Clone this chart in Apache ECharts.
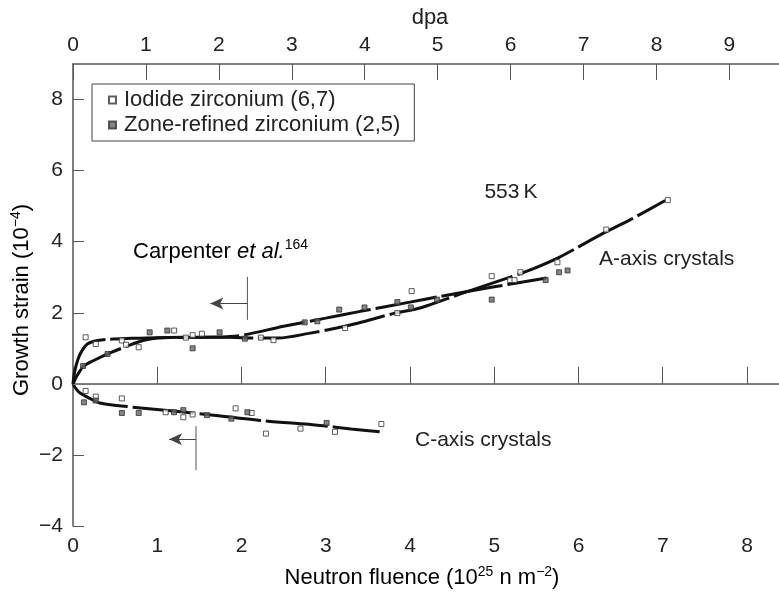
<!DOCTYPE html>
<html><head><meta charset="utf-8">
<script src="https://cdn.jsdelivr.net/npm/echarts@6/dist/echarts.min.js"></script>
<style>html,body{margin:0;padding:0;background:#fff}#c{width:779px;height:594px}</style>
</head><body><div id="c"></div>
<script>
// ---- data ----
const xTicksFluence = [0,1,2,3,4,5,6,7,8];
const xMaxFluence = 8.38;
const dpaMax = 9.68;
const yMin = -4, yMax = 9;

const iodideA = [[0.15,1.31],[0.27,1.12],[0.58,1.22],[0.63,1.10],[0.78,1.03],[1.20,1.50],[1.34,1.30],[1.42,1.37],[1.53,1.41],[2.23,1.30],[2.38,1.23],[3.23,1.57],[4.02,2.61],[3.85,1.99],[4.97,3.03],[5.19,2.92],[5.24,2.92],[5.31,3.14],[5.75,3.42],[6.33,4.34],[7.06,5.17]];
const zoneA = [[0.12,0.50],[0.41,0.84],[0.91,1.45],[1.12,1.50],[1.42,1.00],[1.74,1.45],[2.04,1.27],[2.75,1.73],[2.90,1.76],[3.16,2.09],[3.46,2.15],[3.85,2.30],[4.01,2.15],[4.32,2.37],[4.97,2.37],[5.61,2.92],[5.77,3.14],[5.87,3.19]];
const iodideC = [[0.15,-0.20],[0.27,-0.36],[0.58,-0.41],[1.10,-0.80],[1.31,-0.94],[1.42,-0.86],[1.93,-0.69],[2.12,-0.82],[2.29,-1.40],[2.70,-1.26],[3.11,-1.35],[3.66,-1.13]];
const zoneC = [[0.13,-0.52],[0.27,-0.47],[0.58,-0.82],[0.78,-0.82],[1.20,-0.80],[1.31,-0.74],[1.59,-0.88],[1.88,-0.98],[2.07,-0.80],[3.01,-1.10]];

const curveA1 = [[0,0],[0.02,0.35],[0.06,0.7],[0.11,0.95],[0.17,1.12],[0.25,1.2],[0.4,1.25],[0.7,1.28],[1.0,1.3],[1.5,1.31],[1.92,1.34],[2.5,1.62],[3.0,1.85],[3.41,2.04],[4.0,2.3],[4.36,2.46],[5.0,2.73],[5.62,2.98]];
const curveA2 = [[0,0],[0.04,0.2],[0.08,0.35],[0.12,0.49],[0.24,0.65],[0.44,0.87],[0.64,1.06],[0.83,1.22],[1.0,1.29],[1.3,1.31],[1.8,1.31],[2.2,1.29],[2.44,1.29],[2.8,1.42],[3.13,1.57],[3.4,1.72],[3.79,1.97],[4.14,2.15],[4.6,2.53],[5.11,2.94],[5.39,3.17],[5.77,3.56],[6.28,4.22],[6.6,4.6],[7.03,5.16]];
const curveC = [[0,0],[0.03,-0.12],[0.08,-0.25],[0.2,-0.41],[0.32,-0.54],[0.64,-0.64],[1.03,-0.73],[1.59,-0.86],[2.22,-1.03],[2.93,-1.17],[3.3,-1.27],[3.64,-1.35]];

const arrowAVert = [[2.07,3.01],[2.07,1.80]];
const arrowAHoriz = [[2.07,2.26],[1.63,2.26]];
const arrowCVert = [[1.46,-1.19],[1.46,-2.43]];
const arrowCHoriz = [[1.46,-1.56],[1.14,-1.56]];

const seriesNames = ['Iodide zirconium (6,7)','Zone-refined zirconium (2,5)'];

// ---- chart ----
const FF = "'Liberation Sans', Arial, Helvetica, sans-serif";
const axisColor = '#555';
const txt = '#222';
const chart = echarts.init(document.getElementById('c'), null, {renderer:'canvas'});

function curve(data){
  return {type:'line', data:data, xAxisIndex:0, yAxisIndex:0, symbol:'none', smooth:0.3,
    lineStyle:{color:'#111', width:3, type:[62,5]}, silent:true, z:3};
}
function vline(data){
  return {type:'line', data:data, xAxisIndex:0, yAxisIndex:0, symbol:'none',
    lineStyle:{color:'#555', width:1}, silent:true, z:2};
}
function harrow(d){
  return {type:'line', data:[], xAxisIndex:0, yAxisIndex:0, silent:true,
    markLine:{silent:true, symbol:['none','arrow'], symbolSize:[9,13], label:{show:false},
      lineStyle:{color:'#444', width:1, type:'solid'},
      data:[[{coord:d[0]},{coord:d[1]}]]}};
}

const option = {
  animation:false,
  backgroundColor:'#fff',
  grid:{left:73, top:64, right:0, bottom:68, containLabel:false},
  legend:{
    orient:'vertical', left:92, top:84,
    padding:[5,14,5,16], itemGap:3, itemWidth:7, itemHeight:7,
    borderColor:'#444', borderWidth:1, backgroundColor:'#fff',
    textStyle:{fontSize:22, color:txt, fontFamily:FF, padding:[0,0,0,3]},
    data:seriesNames
  },
  xAxis:[
    {type:'value', position:'bottom', min:0, max:xMaxFluence, interval:1,
     axisLine:{lineStyle:{color:axisColor, width:1.5}},
     axisTick:{inside:true, length:17, lineStyle:{color:axisColor, width:1}},
     axisLabel:{fontSize:21, color:txt, fontFamily:FF, margin:10, showMaxLabel:false},
     splitLine:{show:false}},
    {type:'value', position:'top', min:0, max:dpaMax, interval:1,
     axisLine:{lineStyle:{color:axisColor, width:1.5}},
     axisTick:{inside:true, length:16, lineStyle:{color:axisColor, width:1}},
     axisLabel:{fontSize:21, color:txt, fontFamily:FF, margin:8, showMaxLabel:false},
     splitLine:{show:false}}
  ],
  yAxis:{type:'value', min:yMin, max:yMax, interval:2,
     axisLine:{lineStyle:{color:axisColor, width:1.5}},
     axisTick:{inside:true, length:11, lineStyle:{color:axisColor, width:1}},
     axisLabel:{fontSize:21, color:txt, fontFamily:FF, margin:10, showMaxLabel:false,
       formatter:v=> (v<0? '\u2212'+Math.abs(v) : String(v))},
     splitLine:{show:false}},
  series:[
    {name:seriesNames[0], type:'scatter', data:iodideA.concat(iodideC), symbol:'rect', symbolSize:5,
     itemStyle:{color:'#fff', borderColor:'#333', borderWidth:1}, z:5},
    {name:seriesNames[1], type:'scatter', data:zoneA.concat(zoneC), symbol:'rect', symbolSize:5,
     itemStyle:{color:'#666', borderColor:'#333', borderWidth:1}, z:5},
    curve(curveA1), curve(curveA2), curve(curveC),
    {type:'line', data:[], silent:true,
     markLine:{silent:true, symbol:'none', label:{show:false},
       lineStyle:{color:'#777', width:1.2, type:'solid'}, data:[{yAxis:0}]}},
    vline(arrowAVert), vline(arrowCVert), harrow(arrowAHoriz), harrow(arrowCHoriz)
  ],
  graphic:[
    {type:'text', x:430, y:18, style:{text:'dpa', font:"22px "+FF, fill:txt, align:'center', verticalAlign:'middle'}},
    {type:'text', x:422, y:578, style:{
      text:'{a|Neutron fluence (10}{s|25}{a| n m}{s|\u22122}{a|)}',
      align:'center', verticalAlign:'middle',
      rich:{a:{fontSize:22, fontFamily:FF, color:txt, lineHeight:26}, s:{fontSize:14, fontFamily:FF, color:txt, verticalAlign:'top', lineHeight:26}}}},
    {type:'text', x:22, y:300, rotation:Math.PI/2, style:{
      text:'{a|Growth strain (10}{s|\u22124}{a|)}',
      align:'center', verticalAlign:'middle',
      rich:{a:{fontSize:22, fontFamily:FF, color:txt, lineHeight:26}, s:{fontSize:14, fontFamily:FF, color:txt, verticalAlign:'top', lineHeight:26}}}},
    {type:'text', x:133, y:252, style:{
      text:'{a|Carpenter }{i|et al.}{s|164}',
      align:'left', verticalAlign:'middle',
      rich:{a:{fontSize:22, fontFamily:FF, color:txt, lineHeight:28}, i:{fontSize:22, fontStyle:'italic', fontFamily:FF, color:txt, lineHeight:28}, s:{fontSize:14, fontFamily:FF, color:txt, verticalAlign:'top', lineHeight:28}}}},
    {type:'text', x:511, y:192, style:{text:'553\u2009K', font:"21px "+FF, fill:txt, align:'center', verticalAlign:'middle'}},
    {type:'text', x:599, y:259, style:{text:'A-axis crystals', font:"21px "+FF, fill:txt, align:'left', verticalAlign:'middle'}},
    {type:'text', x:415, y:440, style:{text:'C-axis crystals', font:"21px "+FF, fill:txt, align:'left', verticalAlign:'middle'}}
  ]
};
chart.setOption(option);
</script></body></html>
